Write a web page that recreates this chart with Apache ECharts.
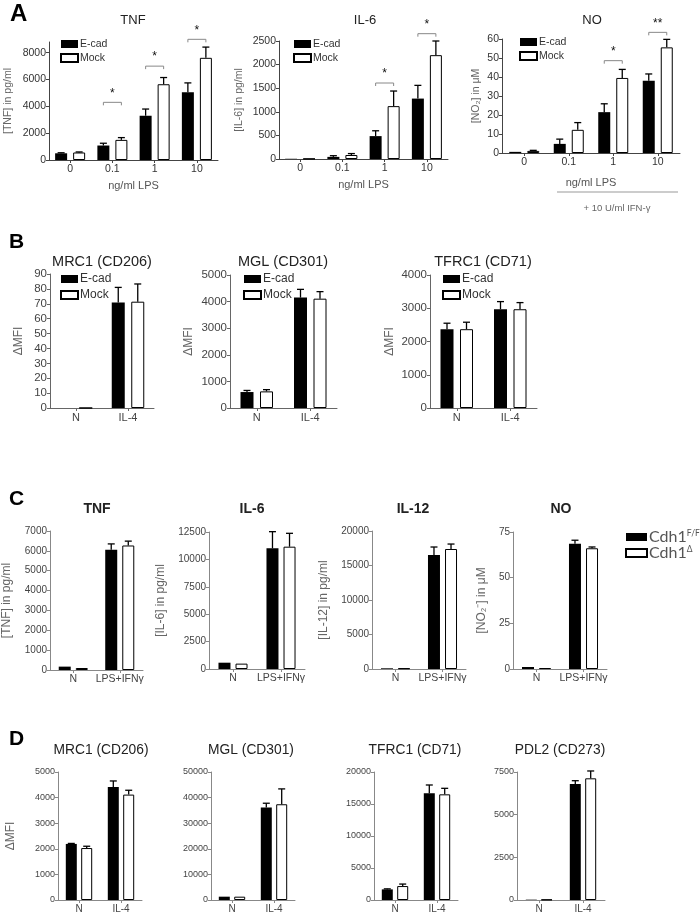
<!DOCTYPE html>
<html><head><meta charset="utf-8">
<script src="https://cdn.jsdelivr.net/npm/echarts@6/dist/echarts.min.js"></script>
<style>html,body{margin:0;padding:0;background:#fff}#c{width:700px;height:916px}</style>
</head><body><div id="c"></div>
<script>
const FONT = 'Liberation Sans, Arial, sans-serif';

// ---------- Panel A : ng/ml LPS (+10 U/ml IFN-γ for NO) ----------
const lpsDoses = ['0', '0.1', '1', '10'];
const nameEcad = 'E-cad', nameMock = 'Mock';
const aTnfEcad = [500, 1080, 3300, 5050];
const aTnfEcadSd = [40, 170, 500, 700];
const aTnfMock = [560, 1500, 5650, 7620];
const aTnfMockSd = [40, 170, 500, 800];
const aTnfSig = [[1, 4300, '*'], [2, 7000, '*'], [3, 9000, '*']];
const aTnfTicks = [0, 2000, 4000, 6000, 8000];

const aIl6Ecad = [5, 45, 485, 1280];
const aIl6EcadSd = [3, 25, 113, 280];
const aIl6Mock = [5, 85, 1120, 2200];
const aIl6MockSd = [3, 30, 320, 300];
const aIl6Sig = [[2, 1610, '*'], [3, 2655, '*']];
const aIl6Ticks = [0, 500, 1000, 1500, 2000, 2500];

const aNoEcad = [0.6, 4.8, 21.5, 38];
const aNoEcadSd = [0.2, 2.5, 4.4, 3.6];
const aNoMock = [1.1, 12.2, 39.5, 55.6];
const aNoMockSd = [0.3, 3.8, 4.5, 4.2];
const aNoSig = [[2, 48.6, '*'], [3, 63.5, '**']];
const aNoTicks = [0, 10, 20, 30, 40, 50, 60];

// ---------- Panel B ----------
const bCats = ['N', 'IL-4'];
const bMrcEcad = [0, 70.8], bMrcEcadSd = [0, 10.2];
const bMrcMock = [0, 71.4], bMrcMockSd = [0, 11.9];
const bMrcTicks = [0, 10, 20, 30, 40, 50, 60, 70, 80, 90];
const bMglEcad = [600, 4150], bMglEcadSd = [60, 310];
const bMglMock = [625, 4110], bMglMockSd = [65, 265];
const bMglTicks = [0, 1000, 2000, 3000, 4000, 5000];
const bTfrEcad = [2370, 2970], bTfrEcadSd = [180, 230];
const bTfrMock = [2370, 2970], bTfrMockSd = [210, 200];
const bTfrTicks = [0, 1000, 2000, 3000, 4000];

// ---------- Panel C ----------
const cCats = ['N', 'LPS+IFNγ'];
const nameFF = 'Cdh1F/F', nameDel = 'Cdh1Δ';
const cTnfFF = [170, 6050], cTnfFFSd = [20, 300];
const cTnfDel = [100, 6270], cTnfDelSd = [15, 220];
const cTnfTicks = [0, 1000, 2000, 3000, 4000, 5000, 6000, 7000];
const cIl6FF = [575, 11010], cIl6FFSd = [30, 1520];
const cIl6Del = [490, 11160], cIl6DelSd = [30, 1220];
const cIl6Ticks = [0, 2500, 5000, 7500, 10000, 12500];
const cIl12FF = [100, 16520], cIl12FFSd = [20, 1160];
const cIl12Del = [100, 17390], cIl12DelSd = [20, 720];
const cIl12Ticks = [0, 5000, 10000, 15000, 20000];
const cNoFF = [1.1, 68.6], cNoFFSd = [0.1, 1.9];
const cNoDel = [0.5, 66.1], cNoDelSd = [0.1, 0.7];
const cNoTicks = [0, 25, 50, 75];

// ---------- Panel D ----------
const dCats = ['N', 'IL-4'];
const dMrcFF = [2190, 4415], dMrcFFSd = [20, 235];
const dMrcDel = [2030, 4117], dMrcDelSd = [70, 170];
const dMrcTicks = [0, 1000, 2000, 3000, 4000, 5000];
const dMglFF = [1300, 36100], dMglFFSd = [100, 1700];
const dMglDel = [1300, 37400], dMglDelSd = [100, 6000];
const dMglTicks = [0, 10000, 20000, 30000, 40000, 50000];
const dTfrFF = [1660, 16670], dTfrFFSd = [80, 1300];
const dTfrDel = [2180, 16510], dTfrDelSd = [310, 940];
const dTfrTicks = [0, 5000, 10000, 15000, 20000];
const dPdlFF = [20, 6800], dPdlFFSd = [5, 190];
const dPdlDel = [20, 7130], dPdlDelSd = [5, 430];
const dPdlTicks = [0, 2500, 5000, 7500];

// ---------- builders ----------
const grids = [], xAxes = [], yAxes = [], series = [];

function errSeries(gi, vals, sds, d, cap) {
  return {
    type: 'custom', xAxisIndex: gi, yAxisIndex: gi, z: 5, silent: true, clip: false,
    data: vals.map((v, i) => [i, v, v + sds[i]]),
    renderItem(params, api) {
      const p0 = api.coord([api.value(0), api.value(1)]);
      const p1 = api.coord([api.value(0), api.value(2)]);
      if (Math.abs(p0[1] - p1[1]) < 0.5) return null;
      const x = p0[0] + d;
      const st = { stroke: '#000', lineWidth: 1.3 };
      return { type: 'group', children: [
        { type: 'line', shape: { x1: x, y1: p0[1], x2: x, y2: p1[1] }, style: st },
        { type: 'line', shape: { x1: x - cap / 2, y1: p1[1], x2: x + cap / 2, y2: p1[1] }, style: st }
      ]};
    }
  };
}

function sigSeries(gi, sig, d) {
  return {
    type: 'custom', xAxisIndex: gi, yAxisIndex: gi, z: 6, silent: true, clip: false,
    data: sig.map(s => [s[0], s[1]]),
    renderItem(params, api) {
      const p = api.coord([api.value(0), api.value(1)]);
      const lab = sig[params.dataIndex][2];
      const st = { stroke: '#888', lineWidth: 1, fill: null };
      return { type: 'group', children: [
        { type: 'polyline', shape: { points: [[p[0] - d, p[1] + 3], [p[0] - d, p[1]], [p[0] + d, p[1]], [p[0] + d, p[1] + 3]] }, style: st },
        { type: 'text', x: p[0], y: p[1] - 3, style: { text: lab, fontSize: 12, fontFamily: FONT, fill: '#111', align: 'center', verticalAlign: 'bottom' } }
      ]};
    }
  };
}

function addPanel(p) {
  const gi = grids.length;
  grids.push({ left: p.left, top: p.top, width: p.width, height: p.height });
  const axisLine = { show: true, lineStyle: { color: p.axisColor, width: 1 } };
  xAxes.push({
    type: 'category', gridIndex: gi, data: p.cats,
    axisLine: axisLine,
    axisTick: { show: true, alignWithLabel: true, length: 3, lineStyle: { color: p.axisColor } },
    axisLabel: { fontSize: p.catFont, color: p.labelColor, margin: p.catMargin, fontFamily: FONT, interval: 0 },
    name: p.xName || '', nameLocation: 'middle', nameGap: p.xNameGap || 20,
    nameTextStyle: { fontSize: 11, color: '#555', fontFamily: FONT }
  });
  yAxes.push({
    type: 'value', gridIndex: gi, min: 0, max: p.max,
    axisLine: axisLine,
    axisTick: { show: true, length: 3, customValues: p.ticks, lineStyle: { color: p.axisColor } },
    axisLabel: { customValues: p.ticks, fontSize: p.tickFont, color: p.labelColor, margin: 3, fontFamily: FONT,
      formatter: v => String(v) },
    splitLine: { show: false },
    name: p.yName || '', nameLocation: 'middle', nameGap: p.nameGap, nameRotate: 90,
    nameTextStyle: { fontSize: p.nameFont, color: '#666', fontFamily: FONT }
  });
  const d = p.barW * (1 + p.gap) / 2;
  series.push({
    type: 'bar', name: p.names[0], xAxisIndex: gi, yAxisIndex: gi, data: p.s1,
    barWidth: p.barW, barGap: (p.gap * 100) + '%', itemStyle: { color: '#000' }, silent: true
  });
  series.push({
    type: 'bar', name: p.names[1], xAxisIndex: gi, yAxisIndex: gi, data: p.s2,
    barWidth: p.barW, barGap: (p.gap * 100) + '%', itemStyle: { color: '#fff', borderColor: '#000', borderWidth: 1 }, silent: true
  });
  series.push(errSeries(gi, p.s1, p.s1sd, -d, 7));
  series.push(errSeries(gi, p.s2, p.s2sd, d, 7));
  if (p.sig) series.push(sigSeries(gi, p.sig, d));
}

const styA = { tickFont: 10.5, catFont: 10.5, nameFont: 10.5, labelColor: '#333', axisColor: '#444', barW: 12, gap: 0.5, catMargin: 4, names: [nameEcad, nameMock], cats: lpsDoses, xName: 'ng/ml LPS', xNameGap: 20 };
addPanel(Object.assign({}, styA, { left: 49, top: 42, width: 169, height: 118, max: 8800, ticks: aTnfTicks, yName: '[TNF] in pg/ml', nameGap: 35, s1: aTnfEcad, s1sd: aTnfEcadSd, s2: aTnfMock, s2sd: aTnfMockSd, sig: aTnfSig }));
addPanel(Object.assign({}, styA, { left: 279, top: 41, width: 169, height: 118, max: 2500, ticks: aIl6Ticks, yName: '[IL-6] in pg/ml', nameGap: 34, s1: aIl6Ecad, s1sd: aIl6EcadSd, s2: aIl6Mock, s2sd: aIl6MockSd, sig: aIl6Sig }));
addPanel(Object.assign({}, styA, { left: 502, top: 39, width: 178, height: 114, max: 60, ticks: aNoTicks, yName: '[NO₂] in μM', nameGap: 20, s1: aNoEcad, s1sd: aNoEcadSd, s2: aNoMock, s2sd: aNoMockSd, sig: aNoSig, xNameGap: 24 }));

const styB = { tickFont: 11.5, catFont: 11, nameFont: 12, labelColor: '#444', axisColor: '#666', barW: 13, gap: 0.5, catMargin: 4, names: [nameEcad, nameMock], cats: bCats, yName: 'ΔMFI' };
addPanel(Object.assign({}, styB, { left: 50, top: 274, width: 104, height: 134, max: 90, ticks: bMrcTicks, nameGap: 25, s1: bMrcEcad, s1sd: bMrcEcadSd, s2: bMrcMock, s2sd: bMrcMockSd }));
addPanel(Object.assign({}, styB, { left: 230, top: 275, width: 107, height: 133, max: 5000, ticks: bMglTicks, nameGap: 35, s1: bMglEcad, s1sd: bMglEcadSd, s2: bMglMock, s2sd: bMglMockSd }));
addPanel(Object.assign({}, styB, { left: 430, top: 275, width: 107, height: 133, max: 4000, ticks: bTfrTicks, nameGap: 34, s1: bTfrEcad, s1sd: bTfrEcadSd, s2: bTfrMock, s2sd: bTfrMockSd }));

const styC = { tickFont: 10, catFont: 10.5, nameFont: 12, labelColor: '#444', axisColor: '#888', barW: 12, gap: 0.42, catMargin: 4, names: [nameFF, nameDel], cats: cCats };
addPanel(Object.assign({}, styC, { left: 49, top: 531, width: 94, height: 139, max: 7000, ticks: cTnfTicks, yName: '[TNF] in pg/ml', nameGap: 37, s1: cTnfFF, s1sd: cTnfFFSd, s2: cTnfDel, s2sd: cTnfDelSd }));
addPanel(Object.assign({}, styC, { left: 209, top: 532, width: 96, height: 137, max: 12500, ticks: cIl6Ticks, yName: '[IL-6] in pg/ml', nameGap: 42, s1: cIl6FF, s1sd: cIl6FFSd, s2: cIl6Del, s2sd: cIl6DelSd }));
addPanel(Object.assign({}, styC, { left: 372, top: 531, width: 94, height: 138, max: 20000, ticks: cIl12Ticks, yName: '[IL-12] in pg/ml', nameGap: 42, s1: cIl12FF, s1sd: cIl12FFSd, s2: cIl12Del, s2sd: cIl12DelSd }));
addPanel(Object.assign({}, styC, { left: 513, top: 532, width: 94, height: 137, max: 75, ticks: cNoTicks, yName: '[NO₂⁻] in μM', nameGap: 25, s1: cNoFF, s1sd: cNoFFSd, s2: cNoDel, s2sd: cNoDelSd }));

const styD = { tickFont: 9, catFont: 10, nameFont: 12, labelColor: '#444', axisColor: '#888', barW: 11, gap: 0.4, catMargin: 4, names: [nameFF, nameDel], cats: dCats };
addPanel(Object.assign({}, styD, { left: 58, top: 772, width: 84, height: 128, max: 5000, ticks: dMrcTicks, yName: 'ΔMFI', nameGap: 41, s1: dMrcFF, s1sd: dMrcFFSd, s2: dMrcDel, s2sd: dMrcDelSd }));
addPanel(Object.assign({}, styD, { left: 211, top: 772, width: 84, height: 128, max: 50000, ticks: dMglTicks, s1: dMglFF, s1sd: dMglFFSd, s2: dMglDel, s2sd: dMglDelSd }));
addPanel(Object.assign({}, styD, { left: 374, top: 772, width: 84, height: 128, max: 20000, ticks: dTfrTicks, s1: dTfrFF, s1sd: dTfrFFSd, s2: dTfrDel, s2sd: dTfrDelSd }));
addPanel(Object.assign({}, styD, { left: 517, top: 772, width: 88, height: 128, max: 7500, ticks: dPdlTicks, s1: dPdlFF, s1sd: dPdlFFSd, s2: dPdlDel, s2sd: dPdlDelSd }));

// ---------- legends ----------
function legAB(left, top, fs, lh) {
  return { data: [nameEcad, nameMock], orient: 'vertical', left: left, top: top, icon: 'rect',
    itemWidth: 17, itemHeight: 8, itemGap: 2, selectedMode: false,
    textStyle: { fontSize: fs, lineHeight: lh, color: '#333', fontFamily: FONT, padding: [0, 0, 0, -3] } };
}
const legends = [
  legAB(55, 33, 10.5, 12), legAB(288, 33, 10.5, 12), legAB(514, 31, 10.5, 12),
  legAB(55, 267, 12, 14), legAB(238, 267, 12, 14), legAB(437, 267, 12, 14),
  { data: [nameFF, nameDel], orient: 'vertical', left: 620, top: 524, icon: 'rect',
    itemWidth: 21, itemHeight: 8, itemGap: 0, selectedMode: false,
    formatter: n => n === nameFF ? '{m|Cdh1}{s|F/F}' : '{m|Cdh1}{s|Δ}',
    textStyle: { color: '#555', padding: [0, 0, 0, -3], rich: {
      m: { fontSize: 16, fontFamily: 'Lato, sans-serif', color: '#555', lineHeight: 16 },
      s: { fontSize: 8.5, fontFamily: 'Lato, sans-serif', color: '#555', verticalAlign: 'top', lineHeight: 16 } } } }
];

// ---------- text annotations ----------
function txt(x, y, t, size, weight, color, align) {
  return { type: 'text', x: x, y: y, silent: true, style: { text: t, fontSize: size, fontWeight: weight || 'normal', fontFamily: FONT, fill: color || '#222', align: align || 'center', verticalAlign: 'middle' } };
}
const graphics = [
  txt(10, 14, 'A', 24, 'bold', '#000', 'left'),
  txt(133, 20, 'TNF', 13), txt(365, 20, 'IL-6', 13), txt(592, 20, 'NO', 13),
  { type: 'line', silent: true, shape: { x1: 557, y1: 192, x2: 678, y2: 192 }, style: { stroke: '#999', lineWidth: 1 } },
  txt(617, 208, '+ 10 U/ml IFN-γ', 9.5, 'normal', '#666'),
  txt(9, 242, 'B', 21, 'bold', '#000', 'left'),
  txt(102, 262, 'MRC1 (CD206)', 14.5), txt(283, 262, 'MGL (CD301)', 14.5), txt(483, 262, 'TFRC1 (CD71)', 14.5),
  txt(9, 499, 'C', 21, 'bold', '#000', 'left'),
  txt(97, 509, 'TNF', 14, 'bold'), txt(252, 509, 'IL-6', 14, 'bold'), txt(413, 509, 'IL-12', 14, 'bold'), txt(561, 509, 'NO', 14, 'bold'),
  txt(9, 739, 'D', 21, 'bold', '#000', 'left'),
  txt(101, 750, 'MRC1 (CD206)', 13.8), txt(251, 750, 'MGL (CD301)', 13.8), txt(415, 750, 'TFRC1 (CD71)', 13.8), txt(560, 750, 'PDL2 (CD273)', 13.8)
];

const chart = echarts.init(document.getElementById('c'), null, { renderer: 'canvas' });
chart.setOption({
  animation: false,
  backgroundColor: '#fff',
  grid: grids, xAxis: xAxes, yAxis: yAxes, series: series,
  legend: legends, graphic: graphics
});
</script></body></html>
